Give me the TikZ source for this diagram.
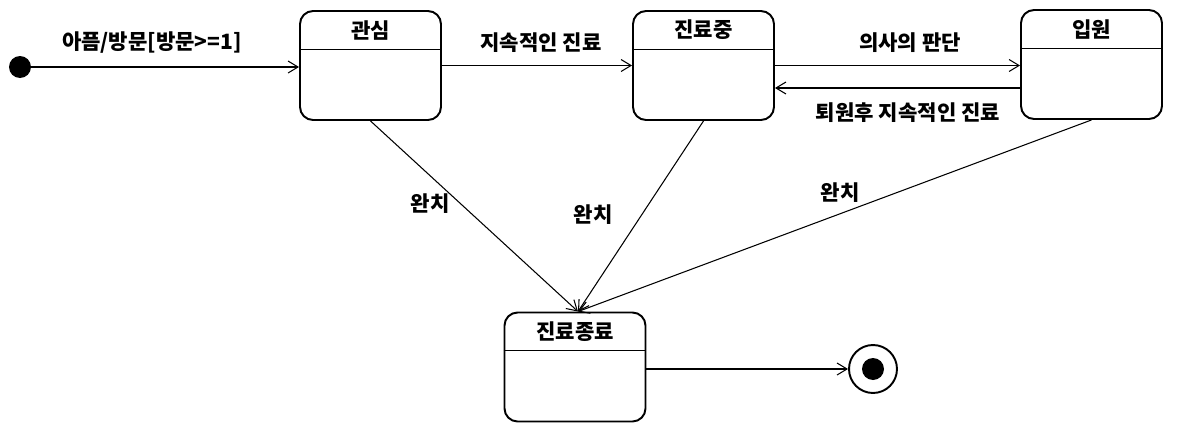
\documentclass[tikz,border=0pt]{standalone}
\usepackage{fontspec}
\setmainfont{Noto Sans CJK KR}
\usetikzlibrary{arrows.meta, positioning, calc}

\begin{document}
\begin{tikzpicture}[
        x=0.02cm, y=-0.02cm,
        state/.style={
            draw,
            line width=1.1pt,
            rounded corners=0.26cm,
            minimum width=2.82cm,
            minimum height=2.18cm,
            inner sep=0pt
        },
        title/.style={font=\bfseries\fontsize{12}{14}\selectfont, inner sep=0pt},
        lbl/.style={font=\bfseries\fontsize{12}{14}\selectfont, inner sep=0pt},
        dot/.style={circle, fill, inner sep=0pt, minimum size=0.44cm},
        arrow/.style={-{Straight Barb[length=2mm, width=2.4mm]}, line width=0.6pt}
    ]

        \useasboundingbox (0,0) rectangle (1178,433);

        % Zustaende
        \node[dot] (start) at (20,67) {};

        \node[state] (interest) at (370.5,65.5) {};
        \node[state] (care) at (703.5,65.5) {};
        \node[state] (inpatient) at (1091.5,64.5) {};
        \node[state] (cured) at (575,367) {};

        \node[draw, circle, line width=1.1pt, minimum size=0.96cm, inner sep=0pt]
            (end) at (873,369) {};
        \node[dot] (endcore) at (end) {};

        % Titel und Trennlinien
        \node[title] (interest-t) at ($(interest.north)+(0,20)$) {관심};
        \node[title] (care-t) at ($(care.north)+(0,20)$) {진료중};
        \node[title] (inpatient-t) at ($(inpatient.north)+(0,20)$) {입원};
        \node[title] (cured-t) at ($(cured.north)+(0,20)$) {진료종료};

        \foreach \s in {interest, care, inpatient, cured}
            \draw[line width=0.6pt] ($(\s.north west)+(0,39)$) -- ($(\s.north east)+(0,39)$);

        % Uebergaenge
        \draw[arrow] (start.east) -- (start -| interest.west);
        \draw[arrow] (interest) -- (care);
        \draw[arrow] (care.east) -- (care.east -| inpatient.west);

        \coordinate (back) at ($(inpatient.west)+(0,23.5)$);
        \draw[arrow] (back) -- (back -| care.east);

        \coordinate (hit) at ($(cured.north)+(3,0)$);
        \draw[arrow] (interest.south) -- (hit);
        \draw[arrow] (care.south) -- (hit);
        \draw[arrow] (inpatient.south) -- (hit);

        \draw[arrow] (cured.east |- end) -- (end.west);

        % Beschriftungen
        \node[lbl] (l-visit) at (152,43) {아픔/방문[방문>=1]};
        \node[lbl] (l-keep) at (541,43) {지속적인 진료};
        \node[lbl] (l-doctor) at (910,43) {의사의 판단};
        \node[lbl] (l-leave) at (908,113) {퇴원후 지속적인 진료};
        \node[lbl] (l-cure1) at (430,204) {완치};
        \node[lbl] (l-cure2) at (593,215) {완치};
        \node[lbl] (l-cure3) at (840,193) {완치};

    \end{tikzpicture}
\end{document}
